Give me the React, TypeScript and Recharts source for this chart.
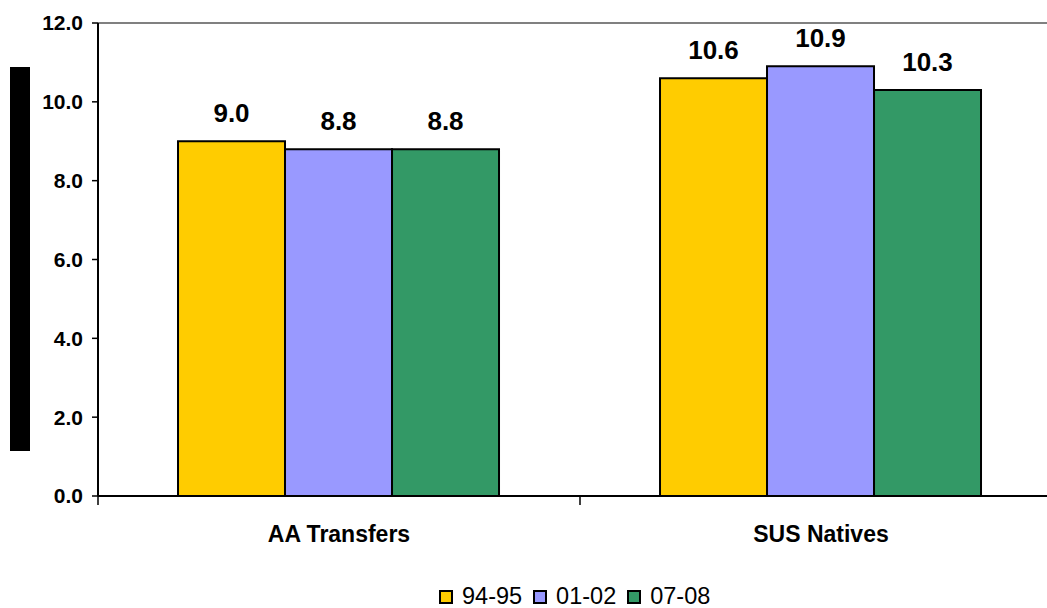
import { BarChart, Bar, XAxis, YAxis, ReferenceLine, LabelList } from 'recharts';

const categories = ['AA Transfers', 'SUS Natives'];
const seriesNames = ['94-95', '01-02', '07-08'];
const values9495 = [9.0, 10.6];
const values0102 = [8.8, 10.9];
const values0708 = [8.8, 10.3];
const yTicks = [0, 2, 4, 6, 8, 10, 12];

const colors = ['#FFCC00', '#9999FF', '#339966'];
const font = '"Liberation Sans", Arial, sans-serif';

const CHART_W = 1070;
const Y_AXIS_W = 98;
const RIGHT_M = 8;
// half of one category band, used for the divider ticks
const HALF_BAND = (CHART_W - Y_AXIS_W - RIGHT_M) / categories.length / 2;

const data = categories.map((name, i) => ({
  name,
  s0: values9495[i],
  s1: values0102[i],
  s2: values0708[i],
}));

const fmt = (v: any) => Number(v).toFixed(1);

const CategoryTick = ({ x, y, payload, index }: any) => (
  <g>
    <line x1={x - HALF_BAND} y1={y} x2={x - HALF_BAND} y2={y + 9} stroke="#000" strokeWidth={1.5} />
    {index === categories.length - 1 && (
      <line x1={x + HALF_BAND} y1={y} x2={x + HALF_BAND} y2={y + 9} stroke="#000" strokeWidth={1.5} />
    )}
    <text x={x} y={y + 46} textAnchor="middle" fill="#000" fontSize={23} fontWeight="bold" fontFamily={font}>
      {payload.value}
    </text>
  </g>
);

export default function App() {
  return (
    <div style={{ position: 'absolute', left: 0, top: 0, width: 1047, height: 608, overflow: 'hidden', background: '#fff', fontFamily: font }}>
      {/* left side bar */}
      <div style={{ position: 'absolute', left: 10, top: 67, width: 20, height: 384, background: '#000' }} />

      <div style={{ position: 'absolute', left: 0, top: 0 }}>
        <BarChart
          width={CHART_W}
          height={608}
          data={data}
          margin={{ top: 23, right: RIGHT_M, left: 0, bottom: 62 }}
          barCategoryGap="16.6%"
          barGap={0}
        >
          <XAxis
            dataKey="name"
            height={50}
            interval={0}
            axisLine={{ stroke: '#000', strokeWidth: 2 }}
            tickLine={false}
            tickSize={0}
            tickMargin={0}
            tick={<CategoryTick />}
          />
          <YAxis
            domain={[0, 12]}
            ticks={yTicks}
            width={Y_AXIS_W}
            tickFormatter={fmt}
            tickSize={6}
            tickMargin={9}
            axisLine={{ stroke: '#000', strokeWidth: 2 }}
            tickLine={{ stroke: '#000', strokeWidth: 1.5 }}
            tick={{ fill: '#000', fontSize: 21, fontWeight: 'bold', fontFamily: font }}
          />
          <ReferenceLine y={12} stroke="#808080" strokeWidth={2} />
          {['s0', 's1', 's2'].map((key, i) => (
            <Bar
              key={key}
              dataKey={key}
              name={seriesNames[i]}
              fill={colors[i]}
              stroke="#000"
              strokeWidth={2}
              isAnimationActive={false}
            >
              <LabelList
                dataKey={key}
                position="top"
                offset={19}
                formatter={fmt}
                style={{ fill: '#000', fontSize: 26, fontWeight: 'bold', fontFamily: font }}
              />
            </Bar>
          ))}
        </BarChart>
      </div>

      {/* legend */}
      <div style={{ position: 'absolute', left: 439, top: 585, display: 'flex', alignItems: 'center', fontSize: 23.5, color: '#000', lineHeight: '23px' }}>
        {seriesNames.map((n, i) => (
          <div key={n} style={{ display: 'flex', alignItems: 'center', marginRight: 11 }}>
            <span style={{ display: 'inline-block', width: 10, height: 10, border: '2px solid #000', background: colors[i], marginRight: 9 }} />
            <span>{n}</span>
          </div>
        ))}
      </div>
    </div>
  );
}
